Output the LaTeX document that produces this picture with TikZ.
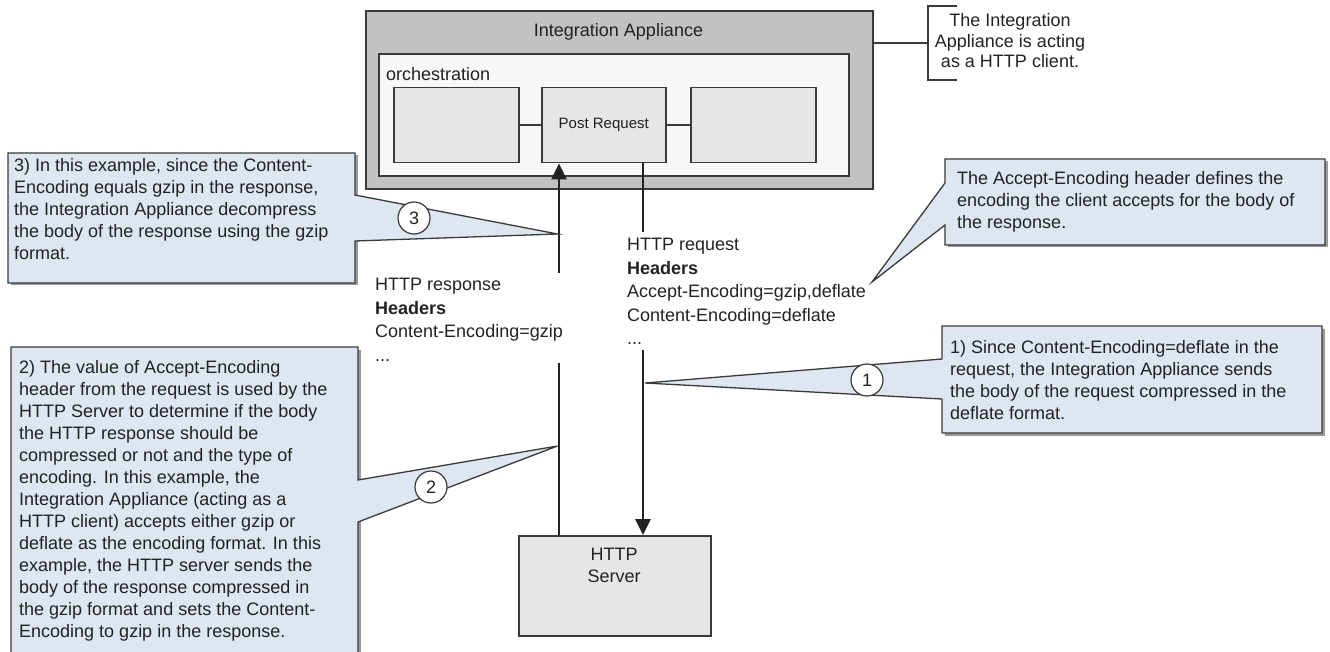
\documentclass[tikz,border=0pt]{standalone}
\usepackage{fontspec}
\setmainfont{Liberation Sans}
\usetikzlibrary{arrows.meta}
\definecolor{callfill}{HTML}{DDE6F1}
\definecolor{boxgray}{HTML}{E6E6E6}
\definecolor{outergray}{HTML}{C2C2C2}
\definecolor{innerfill}{HTML}{F8F8F8}
\definecolor{edgecol}{HTML}{3A3A3A}
\definecolor{ink}{HTML}{222222}
\definecolor{shadowcol}{HTML}{9A9A9A}
\begin{document}
\begin{tikzpicture}[x=1pt,y=-1pt,
  rectbox/.style={draw=edgecol, line width=1.5pt, fill=boxgray, anchor=north west, inner sep=0pt},
  big/.style={font=\fontsize{18}{22}\selectfont, text=ink},
  txt/.style={big, align=left, inner sep=0pt, anchor=north west},
  hdr/.style={font=\fontsize{18}{23.5}\selectfont, text=ink, align=left, inner sep=0pt, anchor=north west},
  callout/.style={fill=callfill, draw=edgecol, line width=1.3pt, line join=miter},
  shadow/.style={fill=shadowcol},
  num/.style={circle, draw=edgecol, line width=1.2pt, fill=white, minimum size=32pt, inner sep=0pt, big},
  flow/.style={draw=ink, line width=2.8pt},
  tip/.style={-{Triangle[length=16pt,width=15pt]}}
]
\useasboundingbox (0,0) rectangle (1330,652);

% ---------- Integration Appliance ----------
\node[rectbox, fill=outergray, line width=2pt, minimum width=507pt, minimum height=178pt] (outer) at (365,10) {};
\node[big, anchor=base] (title) at (618.5,36.5) {Integration Appliance};
\node[rectbox, fill=innerfill, line width=2pt, minimum width=470pt, minimum height=122pt] (inner) at (378,53) {};
\node[big, anchor=base west, inner sep=0pt] (orch) at (386,80.5) {orchestration};
\node[rectbox, minimum width=125pt, minimum height=75pt] (leftbox) at (393,87) {};
\node[rectbox, minimum width=124pt, minimum height=75pt, font=\fontsize{15}{18}\selectfont, text=ink] (post) at (541,87) {Post Request};
\node[rectbox, minimum width=125pt, minimum height=75pt] (rightbox) at (690,87) {};
\draw[edgecol, line width=1.5pt] (leftbox.east) -- (post.west);
\draw[edgecol, line width=1.5pt] (post.east) -- (rightbox.west);

% ---------- bracket annotation ----------
\coordinate (brk) at (928,43);
\coordinate (brktop) at (928,6);
\coordinate (brkbot) at (928,80);
\draw[edgecol, line width=1.3pt] (outer.north east |- brk) -- (brk);
\draw[edgecol, line width=1.3pt] ([xshift=29pt]brktop) -- (brktop) -- (brkbot) -- ([xshift=29pt]brkbot);
\node[font=\fontsize{18}{20.5}\selectfont, text=ink, align=center, inner sep=0pt, anchor=north] (client) at (1010,13.3)
  {The Integration\\Appliance is acting\\as a HTTP client.};

% ---------- HTTP Server ----------
\node[rectbox, minimum width=192pt, minimum height=100pt] (server) at (518,535) {};
\node[big, align=center, inner sep=0pt, anchor=north] (srvtxt) at (614,548.3) {HTTP\\Server};

% ---------- flows ----------
\coordinate (r1) at (559,273);
\coordinate (r2) at (559,363);
\coordinate (q1) at (643,232);
\coordinate (q2) at (643,350);
\draw[flow, tip] (r1) -- (r1 |- post.south);
\draw[flow] (r2 |- server.north) -- (r2);
\draw[flow] (q1 |- post.south) -- (q1);
\draw[flow, tip] (q2) -- (q2 |- server.north);

\node[hdr] (resp) at (375,278.3) {HTTP response\\\textbf{Headers}\\Content-Encoding=gzip\\...};
\node[hdr] (req) at (627,238.3) {HTTP request\\\textbf{Headers}\\Accept-Encoding=gzip,deflate\\Content-Encoding=deflate\\...};

% ---------- callout 3 ----------
\coordinate (c3tip) at (557.5,234);
\fill[shadow] (10.5,155.5) rectangle (357.5,285.5);
\draw[callout] (8,153) -- (355,153) -- (355,195) -- (c3tip) -- (355,241) -- (355,283) -- (8,283) -- cycle;
\node[num] (n3) at (414,218) {3};
\node[txt] (t3) at (14,158.3) {3) In this example, since the Content-\\Encoding equals gzip in the response,\\the Integration Appliance decompress\\the body of the response using the gzip\\format.};

% ---------- callout 2 ----------
\coordinate (c2tip) at (557.5,446);
\fill[shadow] (13.5,349.5) rectangle (360.5,665);
\draw[callout] (11,347) -- (358,347) -- (358,480) -- (c2tip) -- (358,522) -- (358,662) -- (11,662) -- cycle;
\node[num] (n2) at (431,487) {2};
\node[txt] (t2) at (19,360.3) {2) The value of Accept-Encoding\\header from the request is used by the\\HTTP Server to determine if the body\\the HTTP response should be\\compressed or not and the type of\\encoding. In this example, the\\Integration Appliance (acting as a\\HTTP client) accepts either gzip or\\deflate as the encoding format. In this\\example, the HTTP server sends the\\body of the response compressed in\\the gzip format and sets the Content-\\Encoding to gzip in the response.};

% ---------- callout 1 ----------
\coordinate (c1tip) at (645,383);
\fill[shadow] (944.5,328.5) rectangle (1324.5,435.5);
\draw[callout] (942,326) -- (1322,326) -- (1322,433) -- (942,433) -- (942,399) -- (c1tip) -- (942,359) -- cycle;
\node[num] (n1) at (867,380) {1};
\node[txt] (t1) at (950,340.3) {1) Since Content-Encoding=deflate in the\\request, the Integration Appliance sends\\the body of the request compressed in the\\deflate format.};

% ---------- callout Accept-Encoding ----------
\coordinate (c4tip) at (872,282);
\fill[shadow] (947.5,161.5) rectangle (1327.5,247.5);
\draw[callout] (945,159) -- (1325,159) -- (1325,245) -- (945,245) -- (945,225) -- (c4tip) -- (945,183) -- cycle;
\node[txt] (t4) at (957,171.3) {The Accept-Encoding header defines the\\encoding the client accepts for the body of\\the response.};
\end{tikzpicture}
\end{document}
